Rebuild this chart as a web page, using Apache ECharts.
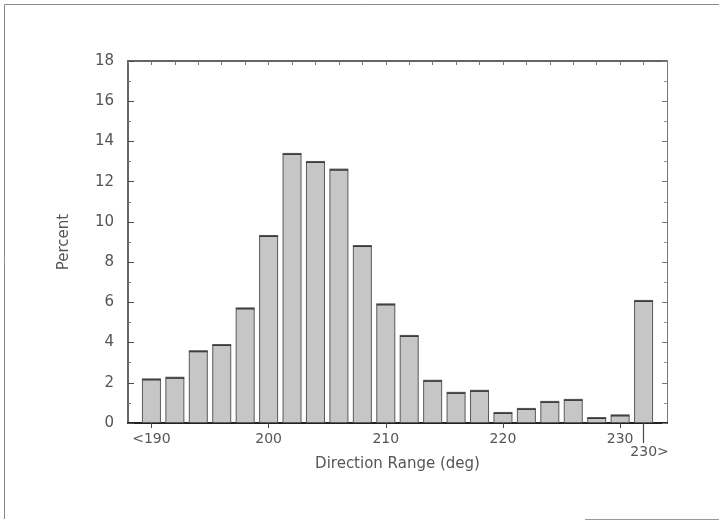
<!DOCTYPE html>
<html>
<head>
<meta charset="utf-8">
<script src="https://cdn.jsdelivr.net/npm/echarts@6/dist/echarts.min.js"></script>
<style>
  html, body { margin: 0; padding: 0; background: #ffffff; }
  #chart { width: 719px; height: 523px; }
</style>
</head>
<body>
<div id="chart"></div>
<script>
// Bin centres (deg): each bar covers a 2-degree range; the first and last are open-ended.
var binCenters = [190, 192, 194, 196, 198, 200, 202, 204, 206, 208, 210,
                  212, 214, 216, 218, 220, 222, 224, 226, 228, 230, 232];
// Share of observations in each bin (%)
var percents = [2.17, 2.25, 3.57, 3.88, 5.70, 9.30, 13.38, 12.98, 12.60, 8.80, 5.90,
                4.33, 2.10, 1.50, 1.60, 0.50, 0.70, 1.05, 1.15, 0.25, 0.38, 6.07];
// Bottom-axis tick labels
var tickValues = [190, 200, 210, 220, 230];
var tickLabels = ['<190', '200', '210', '220', '230'];
var overflowValue = 232;
var overflowLabel = '230>';

var font = 'DejaVu Sans';
var ink = '#4a4a4a';
var textInk = '#555555';

var barData = binCenters.map(function (c, i) { return [c, percents[i]]; });

var chart = echarts.init(document.getElementById('chart'), null, { renderer: 'canvas' });

chart.setOption({
  animation: false,
  backgroundColor: '#ffffff',
  grid: { left: 128, right: 52, top: 61, bottom: 100, containLabel: false },
  xAxis: [
    {
      type: 'value', min: 188, max: 234, interval: 2, position: 'bottom',
      name: 'Direction Range (deg)', nameLocation: 'middle', nameGap: 34,
      nameTextStyle: { fontFamily: font, fontSize: 15, color: textInk },
      axisLine: { show: true, lineStyle: { color: '#222', width: 2 } },
      axisTick: { show: true, inside: false, length: 5, customValues: tickValues,
                  lineStyle: { color: ink, width: 1 } },
      axisLabel: {
        customValues: tickValues, margin: 9,
        fontFamily: font, fontSize: 14, color: textInk,
        formatter: function (v) {
          var k = tickValues.indexOf(v);
          return k >= 0 ? tickLabels[k] : '';
        }
      },
      splitLine: { show: false }
    },
    {
      // open-ended last bin: longer tick with its label set lower
      type: 'value', min: 188, max: 234, interval: 2, position: 'bottom',
      axisLine: { show: false },
      axisTick: { show: true, inside: false, length: 20, customValues: [overflowValue],
                  lineStyle: { color: ink, width: 1.2 } },
      axisLabel: {
        customValues: [overflowValue], margin: 22,
        fontFamily: font, fontSize: 14, color: textInk,
        padding: [0, 0, 0, 12],
        formatter: function () { return overflowLabel; }
      },
      splitLine: { show: false }
    },
    {
      // top frame with inward ticks at every bin
      type: 'value', min: 188, max: 234, interval: 2, position: 'top',
      axisLine: { show: true, lineStyle: { color: '#333', width: 1.5 } },
      axisTick: { show: true, inside: true, length: 4, lineStyle: { color: '#777', width: 1 } },
      axisLabel: { show: false },
      splitLine: { show: false }
    }
  ],
  yAxis: [
    {
      type: 'value', min: 0, max: 18, interval: 2, position: 'left',
      name: 'Percent', nameLocation: 'middle', nameGap: 56, nameRotate: 90,
      nameTextStyle: { fontFamily: font, fontSize: 15, color: textInk },
      axisLine: { show: true, lineStyle: { color: '#333', width: 1.5 } },
      axisTick: { show: true, inside: true, length: 6, lineStyle: { color: ink, width: 1 } },
      minorTick: { show: true, splitNumber: 2, length: 3, lineStyle: { color: '#777', width: 1 } },
      axisLabel: { fontFamily: font, fontSize: 15, color: textInk, margin: 14 },
      splitLine: { show: false }
    },
    {
      type: 'value', min: 0, max: 18, interval: 2, position: 'right',
      axisLine: { show: true, lineStyle: { color: '#777', width: 1 } },
      axisTick: { show: true, inside: true, length: 5, lineStyle: { color: '#777', width: 1 } },
      minorTick: { show: true, splitNumber: 2, length: 3, lineStyle: { color: '#999', width: 1 } },
      axisLabel: { show: false },
      splitLine: { show: false }
    }
  ],
  series: [
    {
      type: 'bar',
      xAxisIndex: 0, yAxisIndex: 0,
      data: barData,
      barWidth: 19,
      itemStyle: { color: '#c6c6c6', borderColor: '#5a5a5a', borderWidth: 1 }
    },
    {
      // dark cap along each bar top
      type: 'scatter',
      xAxisIndex: 0, yAxisIndex: 0,
      data: barData,
      symbol: 'rect', symbolSize: [19, 2],
      itemStyle: { color: '#2e2e2e' },
      silent: true
    }
  ],
  graphic: [
    { type: 'polyline', silent: true,
      shape: { points: [[4.5, 519], [4.5, 4.5], [719, 4.5]] },
      style: { stroke: '#8a8a8a', lineWidth: 1, fill: null } },
    { type: 'line', silent: true,
      shape: { x1: 585, y1: 519.5, x2: 719, y2: 519.5 },
      style: { stroke: '#9a9a9a', lineWidth: 1 } }
  ]
});
</script>
</body>
</html>
